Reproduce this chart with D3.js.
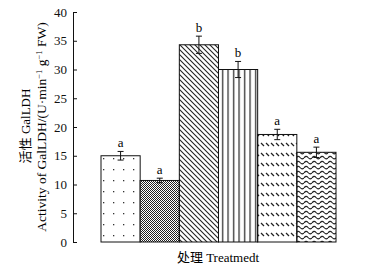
<!DOCTYPE html>
<html>
<head>
<meta charset="utf-8">
<script src="https://cdn.jsdelivr.net/npm/d3@7"></script>
<style>
  body { margin: 0; background: #fff; }
  text { font-family: "Liberation Serif", "Times New Roman", serif; }
</style>
</head>
<body>
<div class="chart"></div>
<script>
var treatments = ['T1', 'T2', 'T3', 'T4', 'T5', 'T6'];
var activity = [15.0, 10.7, 34.3, 30.0, 18.7, 15.6];
var errors = [0.75, 0.4, 1.5, 1.4, 0.9, 0.9];
var letters = ['a', 'a', 'b', 'b', 'a', 'a'];
var yTicks = [0, 5, 10, 15, 20, 25, 30, 35, 40];
var patterns = ['dots', 'checker', 'diag', 'vert', 'dash', 'wave'];

var svg = d3.select(".chart")
    .append("svg")
    .attr("width", 372)
    .attr("height", 275);

var defs = svg.append("defs");

// fill patterns
var p = defs.append("pattern").attr("id", "dots").attr("patternUnits", "userSpaceOnUse")
    .attr("width", 10).attr("height", 11);
p.append("rect").attr("x", 3).attr("y", 4).attr("width", 1.3).attr("height", 1.3).attr("fill", "#333");

p = defs.append("pattern").attr("id", "checker").attr("patternUnits", "userSpaceOnUse")
    .attr("width", 2).attr("height", 2);
p.append("rect").attr("width", 2).attr("height", 2).attr("fill", "#fff");
p.append("rect").attr("width", 1).attr("height", 1).attr("fill", "#222");
p.append("rect").attr("x", 1).attr("y", 1).attr("width", 1).attr("height", 1).attr("fill", "#222");

p = defs.append("pattern").attr("id", "diag").attr("patternUnits", "userSpaceOnUse")
    .attr("width", 5).attr("height", 5);
p.append("path").attr("d", "M0,0L5,5M-1,4L1,6M4,-1L6,1").attr("stroke", "#222").attr("stroke-width", 1.1);

p = defs.append("pattern").attr("id", "vert").attr("patternUnits", "userSpaceOnUse")
    .attr("width", 5.5).attr("height", 5);
p.append("rect").attr("x", 2).attr("width", 1.2).attr("height", 5).attr("fill", "#222");

p = defs.append("pattern").attr("id", "dash").attr("patternUnits", "userSpaceOnUse")
    .attr("width", 5).attr("height", 10);
p.append("path").attr("d", "M1,3L4,6").attr("stroke", "#222").attr("stroke-width", 1.2);

p = defs.append("pattern").attr("id", "wave").attr("patternUnits", "userSpaceOnUse")
    .attr("width", 8).attr("height", 5);
p.append("path").attr("d", "M0,3Q2,0 4,2.5T8,3").attr("fill", "none").attr("stroke", "#222").attr("stroke-width", 1.1);

var y = d3.scaleLinear().domain([0, 40]).range([242, 12]);
var x = d3.scaleBand().domain(treatments).range([101, 336]).padding(0);

// bars
svg.selectAll("rect.bar")
    .data(treatments)
    .enter()
    .append("rect")
    .attr("class", "bar")
    .attr("x", function (d) { return x(d); })
    .attr("y", function (d, i) { return y(activity[i]); })
    .attr("width", x.bandwidth())
    .attr("height", function (d, i) { return y(0) - y(activity[i]); })
    .attr("fill", function (d, i) { return "url(#" + patterns[i] + ")"; })
    .attr("stroke", "#111")
    .attr("stroke-width", 1);

// error bars
var eb = svg.selectAll("g.err")
    .data(treatments)
    .enter()
    .append("g")
    .attr("class", "err")
    .attr("stroke", "#111")
    .attr("stroke-width", 1);

eb.append("line")
    .attr("x1", function (d) { return x(d) + x.bandwidth() / 2; })
    .attr("x2", function (d) { return x(d) + x.bandwidth() / 2; })
    .attr("y1", function (d, i) { return y(activity[i] + errors[i]); })
    .attr("y2", function (d, i) { return y(activity[i] - errors[i]); });

eb.append("line")
    .attr("x1", function (d) { return x(d) + x.bandwidth() / 2 - 3; })
    .attr("x2", function (d) { return x(d) + x.bandwidth() / 2 + 3; })
    .attr("y1", function (d, i) { return y(activity[i] + errors[i]); })
    .attr("y2", function (d, i) { return y(activity[i] + errors[i]); });

eb.append("line")
    .attr("x1", function (d) { return x(d) + x.bandwidth() / 2 - 3; })
    .attr("x2", function (d) { return x(d) + x.bandwidth() / 2 + 3; })
    .attr("y1", function (d, i) { return y(activity[i] - errors[i]); })
    .attr("y2", function (d, i) { return y(activity[i] - errors[i]); });

// significance letters
svg.selectAll("text.sig")
    .data(treatments)
    .enter()
    .append("text")
    .attr("class", "sig")
    .attr("x", function (d) { return x(d) + x.bandwidth() / 2; })
    .attr("y", function (d, i) { return y(activity[i] + errors[i]) - 4; })
    .attr("text-anchor", "middle")
    .style("font-size", "13px")
    .text(function (d, i) { return letters[i]; });

// y axis
var yAxis = svg.append("g")
    .attr("transform", "translate(73,0)")
    .call(d3.axisLeft(y).tickValues(yTicks).tickSizeInner(-4).tickSizeOuter(0).tickPadding(6));
yAxis.selectAll("text").style("font-size", "13px").attr("fill", "#111")
    .attr("font-family", "Liberation Serif, serif");
yAxis.selectAll("line, path").attr("stroke", "#111");

// axis titles
svg.append("text")
    .attr("transform", "translate(30,126) rotate(-90)")
    .attr("text-anchor", "middle")
    .style("font-size", "13px")
    .html('<tspan font-family="Noto Sans CJK SC">活性</tspan> GalLDH');

svg.append("text")
    .attr("transform", "translate(46,127) rotate(-90)")
    .attr("text-anchor", "middle")
    .style("font-size", "13.5px")
    .html('Activity of GalLDH/(U·min<tspan dy="-4" font-size="8.5px">−1</tspan><tspan dy="4"> g</tspan><tspan dy="-4" font-size="8.5px">−1</tspan><tspan dy="4"> FW)</tspan>');

svg.append("text")
    .attr("x", 218)
    .attr("y", 262)
    .attr("text-anchor", "middle")
    .style("font-size", "13px")
    .html('<tspan font-family="Noto Sans CJK SC">处理</tspan> Treatmedt');
</script>
</body>
</html>
